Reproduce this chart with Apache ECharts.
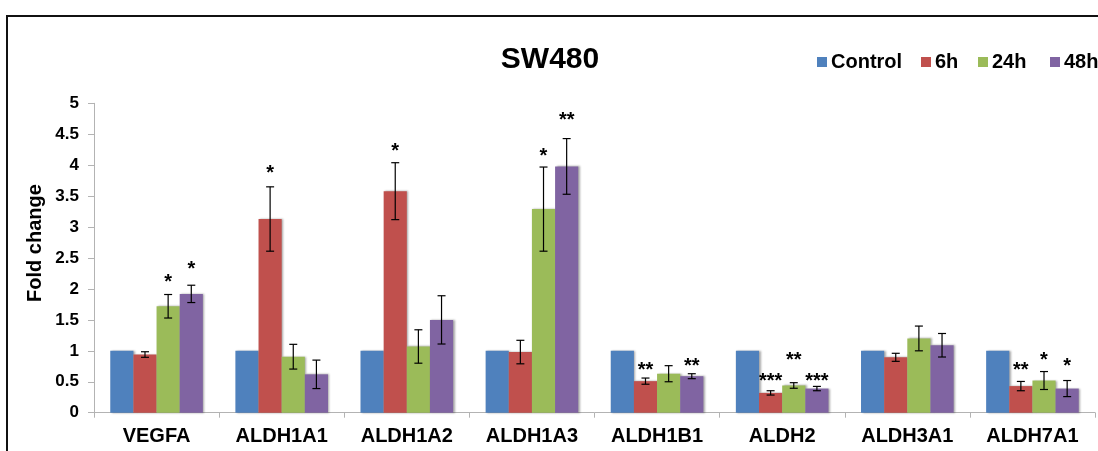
<!DOCTYPE html>
<html>
<head>
<meta charset="utf-8">
<script src="https://cdn.jsdelivr.net/npm/echarts@6/dist/echarts.min.js"></script>
<style>
html,body{margin:0;padding:0;background:#fff;}
#c{width:1098px;height:451px;}
</style>
</head>
<body>
<div id="c"></div>
<script>
// ---- data ----
var categories = ['VEGFA','ALDH1A1','ALDH1A2','ALDH1A3','ALDH1B1','ALDH2','ALDH3A1','ALDH7A1'];
var seriesNames = ['Control','6h','24h','48h'];
var control = [1,1,1,1,1,1,1,1];
var h6  = [0.94, 3.13, 3.58, 0.98, 0.51, 0.32, 0.895, 0.43];
var h24 = [1.72, 0.905, 1.07, 3.29, 0.63, 0.44, 1.20, 0.52];
var h48 = [1.92, 0.62, 1.50, 3.98, 0.59, 0.39, 1.09, 0.39];
var err6  = [0.045, 0.52, 0.46, 0.19, 0.05, 0.035, 0.065, 0.075];
var err24 = [0.19, 0.20, 0.27, 0.68, 0.13, 0.045, 0.20, 0.145];
var err48 = [0.14, 0.23, 0.39, 0.45, 0.04, 0.035, 0.19, 0.13];
var stars6  = ['', '*', '*', '', '**', '***', '', '**'];
var stars24 = ['*', '', '', '*', '', '**', '', '*'];
var stars48 = ['*', '', '', '**', '**', '***', '', '*'];
var star6Y  = [null, 3.94, 4.30, null, 0.755, 0.59, null, 0.755];
var star24Y = [2.18, null, null, 4.22, null, 0.92, null, 0.93];
var star48Y = [2.40, null, null, 4.80, 0.82, 0.59, null, 0.82];
var yTicks = [0, 0.5, 1, 1.5, 2, 2.5, 3, 3.5, 4, 4.5, 5];

var colors = ['#4F81BD', '#C0504D', '#9BBB59', '#8064A2'];
var FONT = '"Liberation Sans", Arial, sans-serif';

var values = [control, h6, h24, h48];
var errs = [null, err6, err24, err48];
var stars = [null, stars6, stars24, stars48];
var starYs = [null, star6Y, star24Y, star48Y];

var catGapPct = 26;

var errData = [];
for (var s = 1; s < 4; s++) {
  for (var i = 0; i < categories.length; i++) {
    errData.push([i, s, values[s][i], errs[s][i], stars[s][i], starYs[s][i]]);
  }
}

function renderErr(params, api) {
  var cat = api.value(0), s = api.value(1), v = api.value(2), e = api.value(3);
  var band = api.size([1, 0])[0];
  var bw = band * (1 - catGapPct / 100) / 4;
  var c = api.coord([cat, v]);
  var x = c[0] + (s - 1.5) * bw;
  var yt = api.coord([cat, v + e])[1];
  var yb = api.coord([cat, v - e])[1];
  var cap = 4;
  var st = {stroke: '#000', lineWidth: 1.2};
  var children = [
    {type: 'line', shape: {x1: x, y1: yt, x2: x, y2: yb}, style: st},
    {type: 'line', shape: {x1: x - cap, y1: yt, x2: x + cap, y2: yt}, style: st},
    {type: 'line', shape: {x1: x - cap, y1: yb, x2: x + cap, y2: yb}, style: st}
  ];
  var txt = errData[params.dataIndex][4];
  var sy = errData[params.dataIndex][5];
  if (txt && sy != null) {
    var p = api.coord([cat, sy]);
    children.push({type: 'text', x: x, y: p[1] + 5, style: {
      text: txt, fill: '#000', font: 'bold 20px ' + FONT, align: 'center', verticalAlign: 'middle'
    }});
  }
  return {type: 'group', children: children};
}

var series = [];
for (var k = 0; k < 4; k++) {
  series.push({
    name: seriesNames[k], type: 'bar', data: values[k],
    barGap: '0%', barCategoryGap: catGapPct + '%',
    itemStyle: {color: colors[k], shadowColor: 'rgba(0,0,0,0.35)', shadowBlur: 2, shadowOffsetX: 1.5},
    emphasis: {disabled: true}
  });
}
series.push({
  type: 'custom', renderItem: renderErr, data: errData,
  encode: {x: 0, y: 2}, z: 5, silent: true
});

var legendLefts = [817, 921, 978, 1050];
var legends = seriesNames.map(function (n, i) {
  return {
    data: [n], left: legendLefts[i], top: 52, padding: 0,
    icon: 'rect', itemWidth: 10, itemHeight: 10, itemGap: 5,
    textStyle: {fontFamily: FONT, fontWeight: 'bold', fontSize: 20, color: '#000', padding: [0, 0, 4, -1]},
    selectedMode: false
  };
});

var chart = echarts.init(document.getElementById('c'), null, {renderer: 'canvas'});
chart.setOption({
  animation: false,
  color: colors,
  title: {
    text: 'SW480', left: 545, top: 40, textAlign: 'center',
    textStyle: {fontFamily: FONT, fontWeight: 'bold', fontSize: 30, color: '#000'}
  },
  legend: legends,
  grid: {left: 94, right: 3, top: 103.3, bottom: 38.3, containLabel: false},
  xAxis: {
    type: 'category', data: categories,
    axisLine: {lineStyle: {color: '#B3B3B3', width: 1}},
    axisTick: {show: true, length: 5, lineStyle: {color: '#B3B3B3'}},
    axisLabel: {fontFamily: FONT, fontWeight: 'bold', fontSize: 20, color: '#000', margin: 14}
  },
  yAxis: {
    type: 'value', min: 0, max: 5, interval: 0.5,
    axisLine: {show: true, lineStyle: {color: '#B3B3B3', width: 1}},
    axisTick: {show: true, length: 6, lineStyle: {color: '#B3B3B3'}},
    splitLine: {show: false},
    axisLabel: {fontFamily: FONT, fontWeight: 'bold', fontSize: 17, color: '#000', margin: 15,
      formatter: function (v) { return String(yTicks[Math.round(v * 2)]); }}
  },
  graphic: [
    {type: 'rect', shape: {x: 7, y: 16, width: 1200, height: 600}, style: {fill: 'none', stroke: '#111', lineWidth: 2}, silent: true, z: 100},
    {type: 'text', x: 35, y: 243, rotation: Math.PI / 2, style: {
      text: 'Fold change', font: 'bold 20px ' + FONT, fill: '#000', align: 'center', verticalAlign: 'middle'
    }}
  ],
  series: series
});
</script>
</body>
</html>
